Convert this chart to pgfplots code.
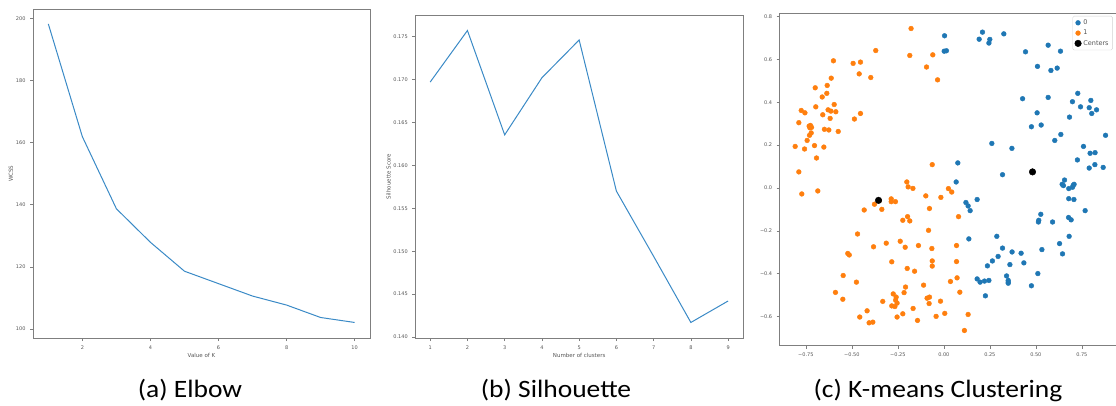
\documentclass[border=0pt]{standalone}
\usepackage{pgfplots}
\pgfplotsset{compat=1.18}
\usepackage{fontspec}
\setmainfont{DejaVu Sans}
\newfontfamily\capfont{Carlito}
\definecolor{tabblue}{HTML}{1F77B4}
\definecolor{taborange}{HTML}{FF7F0E}
\definecolor{lineblue}{HTML}{3A8AC6}
\definecolor{framegray}{HTML}{7F7F7F}
\definecolor{textgray}{HTML}{555555}
\pgfplotsset{
  mpl/.style={
    scale only axis,
    axis line style={framegray, line width=0.6pt},
    tick align=outside,
    xtick pos=bottom, ytick pos=left,
    major tick length=3pt,
    tick style={framegray, line width=0.5pt},
    tick label style={font=\fontsize{5}{6}\selectfont, text=textgray},
    label style={font=\fontsize{5.5}{6.5}\selectfont, text=textgray},
    /pgf/number format/assume math mode=true,
    xticklabel style={yshift=-1pt},
    yticklabel style={xshift=-1pt},
  }
}
\begin{document}
\begin{tikzpicture}
% (a) Elbow
\begin{axis}[mpl, at={(33pt,67pt)}, anchor=south west,
  width=337pt, height=328.7pt,
  xmin=0.55, xmax=10.45, ymin=97.1, ymax=202.9,
  xtick={2,4,6,8,10}, ytick={100,120,140,160,180,200},
  xlabel={Value of K}, ylabel={WCSS},
  xlabel style={yshift=3pt}, ylabel style={yshift=-4pt}]
\addplot[lineblue, line width=1pt] coordinates {
 (1,198.2) (2,161.9) (3,138.7) (4,127.9) (5,118.6) (6,114.6) (7,110.6) (8,107.7) (9,103.7) (10,102.1)};
\end{axis}
% (b) Silhouette
\begin{axis}[mpl, at={(415.3pt,67pt)}, anchor=south west,
  width=327.7pt, height=323pt,
  xmin=0.6, xmax=9.4, ymin=0.13989, ymax=0.17751,
  xtick={1,2,3,4,5,6,7,8,9},
  ytick={0.140,0.145,0.150,0.155,0.160,0.165,0.170,0.175},
  yticklabels={0.140,0.145,0.150,0.155,0.160,0.165,0.170,0.175},
  xlabel={Number of clusters}, ylabel={Silhouette Score},
  xlabel style={yshift=3pt}, ylabel style={yshift=-4pt}]
\addplot[lineblue, line width=1pt] coordinates {
 (1,0.1697) (2,0.1757) (3,0.16355) (4,0.1702) (5,0.1746) (6,0.1570) (7,0.1494) (8,0.1417) (9,0.1442)};
\end{axis}
% (c) K-means
\begin{axis}[mpl, at={(779.7pt,59.3pt)}, anchor=south west,
  width=341.3pt, height=332.4pt,
  xmin=-0.892, xmax=0.963, ymin=-0.737, ymax=0.816,
  xtick={-0.75,-0.5,-0.25,0,0.25,0.5,0.75},
  xticklabels={−0.75,−0.50,−0.25,0.00,0.25,0.50,0.75},
  ytick={-0.6,-0.4,-0.2,0,0.2,0.4,0.6,0.8},
  yticklabels={−0.6,−0.4,−0.2,0.0,0.2,0.4,0.6,0.8},
  legend style={at={(0.858,0.992)}, anchor=north west,
    font=\fontsize{6.5}{7.5}\selectfont, draw=gray!35, rounded corners=1.5pt,
    inner xsep=2pt, inner ysep=1.5pt, row sep=0pt, cells={anchor=west}, text=textgray},
  legend cell align=left]
\addplot[only marks, mark=*, mark size=2.4pt, color=tabblue] coordinates {
(0.004,0.711)(0.002,0.639)(0.014,0.641)(0.210,0.728)(0.192,0.695)(0.250,0.694)(0.245,0.677)(0.326,0.720)
(0.444,0.636)(0.567,0.667)(0.634,0.639)(0.509,0.568)(0.582,0.549)(0.616,0.560)(0.428,0.417)(0.567,0.423)
(0.728,0.442)(0.699,0.403)(0.743,0.379)(0.799,0.409)(0.790,0.375)(0.804,0.348)(0.830,0.365)(0.507,0.351)
(0.529,0.294)(0.476,0.286)(0.683,0.331)(0.636,0.250)(0.603,0.222)(0.879,0.246)(0.261,0.208)(0.370,0.185)
(0.759,0.194)(0.726,0.131)(0.795,0.162)(0.822,0.165)(0.821,0.109)(0.790,0.093)(0.866,0.096)(0.076,0.117)
(0.319,0.062)(0.067,0.028)(0.656,0.037)(0.643,0.017)(0.650,0.011)(0.679,-0.003)(0.699,0.003)(0.708,0.017)
(0.703,0.012)(0.679,-0.050)(0.707,-0.054)(0.120,-0.068)(0.132,-0.084)(0.143,-0.106)(0.181,-0.054)(0.768,-0.106)
(0.527,-0.123)(0.516,-0.151)(0.514,-0.159)(0.591,-0.159)(0.678,-0.138)(0.692,-0.149)(0.681,-0.226)(0.136,-0.238)
(0.288,-0.226)(0.629,-0.260)(0.319,-0.281)(0.371,-0.299)(0.420,-0.305)(0.533,-0.288)(0.645,-0.308)(0.295,-0.320)
(0.264,-0.341)(0.237,-0.364)(0.359,-0.358)(0.435,-0.350)(0.511,-0.400)(0.341,-0.411)(0.350,-0.432)(0.350,-0.440)
(0.350,-0.445)(0.181,-0.425)(0.197,-0.440)(0.221,-0.435)(0.245,-0.432)(0.226,-0.504)(0.476,-0.457)};
\addlegendentry{0}
\addplot[only marks, mark=*, mark size=2.4pt, color=taborange] coordinates {
(-0.178,0.745)(-0.370,0.642)(-0.185,0.619)(-0.060,0.622)(-0.094,0.565)(-0.034,0.505)(-0.493,0.582)(-0.453,0.588)
(-0.460,0.533)(-0.397,0.516)(-0.600,0.594)(-0.612,0.513)(-0.634,0.479)(-0.699,0.468)(-0.636,0.442)(-0.661,0.425)
(-0.596,0.390)(-0.696,0.379)(-0.629,0.365)(-0.614,0.359)(-0.587,0.356)(-0.658,0.342)(-0.618,0.325)(-0.775,0.362)
(-0.755,0.351)(-0.788,0.305)(-0.732,0.289)(-0.725,0.292)(-0.719,0.283)(-0.728,0.281)(-0.721,0.257)(-0.730,0.246)
(-0.649,0.274)(-0.625,0.271)(-0.574,0.264)(-0.743,0.222)(-0.703,0.198)(-0.652,0.191)(-0.808,0.194)(-0.757,0.182)
(-0.692,0.140)(-0.788,0.075)(-0.772,-0.028)(-0.685,-0.014)(-0.486,0.322)(-0.453,0.348)
(-0.063,0.109)(-0.201,0.028)(-0.194,0.005)(-0.168,-0.002)(-0.098,-0.037)(-0.016,-0.044)(0.025,-0.003)(0.043,-0.019)
(-0.286,-0.051)(-0.286,-0.064)(-0.263,-0.064)(-0.377,-0.076)(-0.351,-0.059)(-0.337,-0.100)(-0.433,-0.103)(-0.078,-0.096)
(0.080,-0.134)(-0.197,-0.134)(-0.223,-0.151)(-0.185,-0.154)(-0.083,-0.198)(-0.469,-0.215)(-0.237,-0.249)(-0.313,-0.258)
(-0.382,-0.275)(-0.210,-0.277)(-0.138,-0.269)(-0.065,-0.283)(0.069,-0.269)(-0.522,-0.306)(-0.514,-0.313)(-0.283,-0.345)
(-0.063,-0.341)(0.069,-0.344)(-0.063,-0.365)(-0.199,-0.376)(-0.159,-0.389)(-0.547,-0.409)(0.072,-0.420)(0.036,-0.437)
(-0.475,-0.440)(-0.110,-0.454)(-0.208,-0.463)(0.087,-0.487)(-0.216,-0.489)(-0.275,-0.495)(-0.589,-0.488)(-0.259,-0.510)
(-0.262,-0.524)(-0.078,-0.510)(-0.091,-0.515)(-0.549,-0.520)(-0.254,-0.538)(-0.332,-0.530)(-0.018,-0.529)(-0.080,-0.540)
(-0.283,-0.551)(-0.266,-0.554)(-0.167,-0.563)(-0.417,-0.574)(-0.223,-0.588)(0.005,-0.586)(0.132,-0.591)(-0.457,-0.603)
(-0.254,-0.603)(-0.042,-0.600)(-0.143,-0.619)(-0.386,-0.627)(-0.406,-0.630)(0.112,-0.666)};
\addlegendentry{1}
\addplot[only marks, mark=*, mark size=3.3pt, color=black] coordinates {
(-0.355,-0.058)(0.482,0.075)};
\addlegendentry{Centers}
\end{axis}
% captions
\node[anchor=base, xscale=1.1, font=\capfont\fontsize{25}{30}\selectfont] at (190pt,7.3pt) {(a) Elbow};
\node[anchor=base, xscale=1.1, font=\capfont\fontsize{25}{30}\selectfont] at (556pt,7.3pt) {(b) Silhouette};
\node[anchor=base, xscale=1.1, font=\capfont\fontsize{25}{30}\selectfont] at (938pt,7.3pt) {(c) K-means Clustering};
\pgfresetboundingbox
\path (0pt,0pt) rectangle (1116pt,405pt);
\end{tikzpicture}
\end{document}
